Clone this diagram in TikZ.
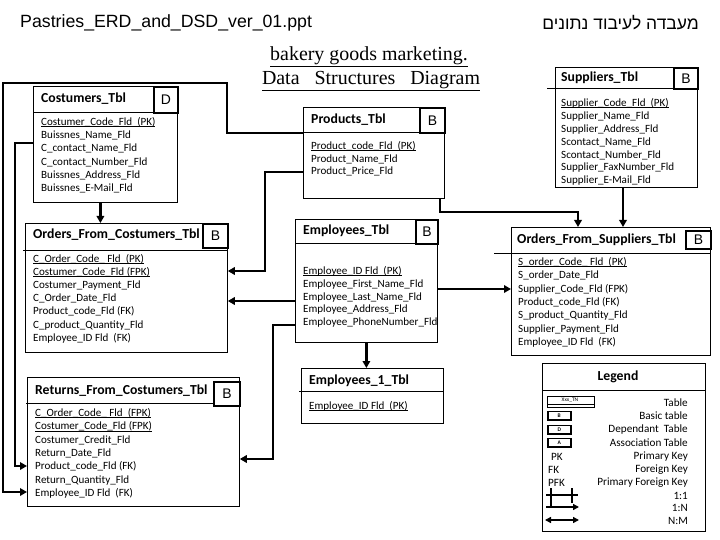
\documentclass[tikz,border=0pt]{standalone}
\usepackage{fontspec}
\setmainfont{Carlito}
\newfontfamily\arialf{Liberation Sans}
\newfontfamily\timesf{Liberation Serif}
\newfontfamily\hebf[Script=Hebrew]{Liberation Sans}
\TeXXeTstate=1
\usetikzlibrary{arrows.meta}
\newcommand\ulfld[1]{\setbox0\hbox{#1}\rlap{\rule[-1.8pt]{\wd0}{1pt}}\box0}
\tikzset{
  tbl/.style={draw, line width=0.8bp, inner sep=0, anchor=north west},
  sepline/.style={line width=0.8bp},
  fld/.style={anchor=west, inner sep=0, font=\fontsize{11.1}{12}\selectfont, text height=7.5bp, text depth=2.5bp},
  hdr/.style={anchor=west, inner sep=0, font=\bfseries\fontsize{13.8}{15}\selectfont},
  lbox/.style={draw, line width=1.8bp, inner sep=0, anchor=north west, font=\arialf\fontsize{14}{14}\selectfont},
  conn/.style={line width=2.6bp},
  arr/.style={conn, -{Triangle[length=7bp,width=7.5bp]}},
  legtxt/.style={anchor=east, inner sep=0, font=\fontsize{11.2}{12}\selectfont},
  legbox/.style={draw, line width=1.5bp, inner sep=0, anchor=north west, minimum width=23bp, minimum height=8.5bp, font=\bfseries\fontsize{5.5}{5.5}\selectfont},
}
\begin{document}
\begin{tikzpicture}[x=1bp,y=-1bp]
\useasboundingbox (0,0) rectangle (720,540);
\fill[white] (0,0) rectangle (720,540);

% titles
\node[anchor=west, inner sep=0, font=\arialf\fontsize{17.8}{20}\selectfont] (ttl) at (20,23) {Pastries\_ERD\_and\_DSD\_ver\_01.ppt};
\node[anchor=east, inner sep=0, font=\hebf\fontsize{17.5}{20}\selectfont] (heb) at (699,23) {\beginR מעבדה לעיבוד נתונים\endR};
\node[inner sep=0, font=\timesf\fontsize{20}{22}\selectfont] (sub1) at (369,57) {\underline{bakery goods marketing.}};
\node[inner sep=0, font=\timesf\fontsize{20}{22}\selectfont] (sub2) at (371,81) {\underline{Data\ \ \ Structures\ \ \ Diagram}};

% Costumers_Tbl
\node[tbl, minimum width=144bp, minimum height=116bp] (cust) at (33,86) {};
\draw[sepline] (33,112) -- (178,112);
\node[lbox, minimum width=24bp, minimum height=26bp] (custL) at (153,86) {D};
\node[hdr] (custH) at (41,99) {Costumers\_Tbl};
\foreach \t [count=\i from 0] in {{\ulfld{Costumer\_Code\_Fld\ \ (PK)}}, Buissnes\_Name\_Fld, C\_contact\_Name\_Fld, C\_contact\_Number\_Fld, Buissnes\_Address\_Fld, Buissnes\_E-Mail\_Fld}
  \node[fld] (cust-f\i) at (41,{123+13.2*\i}) {\t};

% Products_Tbl
\node[tbl, minimum width=141bp, minimum height=91bp] (prod) at (303,107) {};
\draw[sepline] (303,132) -- (444,132);
\node[lbox, minimum width=25bp, minimum height=25bp] (prodL) at (419,107) {B};
\node[hdr] (prodH) at (311,120) {Products\_Tbl};
\foreach \t [count=\i from 0] in {{\ulfld{Product\_code\_Fld\ \ (PK)}}, Product\_Name\_Fld, Product\_Price\_Fld}
  \node[fld] (prod-f\i) at (311,{147+12.6*\i}) {\t};

% Suppliers_Tbl
\node[tbl, minimum width=142bp, minimum height=120bp] (sup) at (555,67) {};
\draw[sepline] (547,88) -- (697,88);
\node[lbox, minimum width=24bp, minimum height=21bp] (supL) at (673,67) {B};
\node[hdr] (supH) at (561,78) {Suppliers\_Tbl};
\foreach \t [count=\i from 0] in {{\ulfld{Supplier\_Code\_Fld\ \ (PK)}}, Supplier\_Name\_Fld, Supplier\_Address\_Fld, Scontact\_Name\_Fld, Scontact\_Number\_Fld, Supplier\_FaxNumber\_Fld, Supplier\_E-Mail\_Fld}
  \node[fld] (sup-f\i) at (561,{104+12.9*\i}) {\t};

% Orders_From_Costumers_Tbl
\node[tbl, minimum width=202bp, minimum height=129bp] (ofc) at (25,223) {};
\draw[sepline] (23,250) -- (227,250);
\node[lbox, minimum width=25bp, minimum height=24bp] (ofcL) at (202,223) {B};
\node[hdr] (ofcH) at (33,235) {Orders\_From\_Costumers\_Tbl};
\foreach \t [count=\i from 0] in {{\ulfld{C\_Order\_Code\_\ Fld\ \ (PK)}}, {\ulfld{Costumer\_Code\_Fld\ (FPK)}}, Costumer\_Payment\_Fld, C\_Order\_Date\_Fld, Product\_code\_Fld\ (FK), C\_product\_Quantity\_Fld, Employee\_ID Fld\ \ (FK)}
  \node[fld] (ofc-f\i) at (33,{260+13.1*\i}) {\t};

% Employees_Tbl
\node[tbl, minimum width=142bp, minimum height=123bp] (emp) at (295,219) {};
\draw[sepline] (295,243) -- (437,243);
\node[lbox, minimum width=22bp, minimum height=24bp] (empL) at (415,219) {B};
\node[hdr] (empH) at (303,231) {Employees\_Tbl};
\foreach \t [count=\i from 0] in {{\ulfld{Employee\_ID Fld\ \ (PK)}}, Employee\_First\_Name\_Fld, Employee\_Last\_Name\_Fld, Employee\_Address\_Fld, Employee\_PhoneNumber\_Fld}
  \node[fld] (emp-f\i) at (303,{272+12.8*\i}) {\t};

% Orders_From_Suppliers_Tbl
\node[tbl, minimum width=199bp, minimum height=128bp] (ofs) at (511,227) {};
\draw[sepline] (494,253) -- (710,253);
\node[lbox, minimum width=25bp, minimum height=18bp] (ofsL) at (685,230) {B};
\node[hdr] (ofsH) at (517,240) {Orders\_From\_Suppliers\_Tbl};
\foreach \t [count=\i from 0] in {{\ulfld{S\_order\_Code\_\ Fld\ \ (PK)}}, S\_order\_Date\_Fld, Supplier\_Code\_Fld\ (FPK), Product\_code\_Fld\ (FK), S\_product\_Quantity\_Fld, Supplier\_Payment\_Fld, Employee\_ID Fld\ \ (FK)}
  \node[fld] (ofs-f\i) at (518,{263+13.3*\i}) {\t};

% Returns_From_Costumers_Tbl
\node[tbl, minimum width=212bp, minimum height=129bp] (ret) at (27,377) {};
\draw[sepline] (26,403) -- (213,403);
\node[lbox, minimum width=26bp, minimum height=24bp] (retL) at (213,381) {B};
\node[hdr] (retH) at (35,391) {Returns\_From\_Costumers\_Tbl};
\foreach \t [count=\i from 0] in {{\ulfld{C\_Order\_Code\_\ Fld\ \ (FPK)}}, {\ulfld{Costumer\_Code\_Fld\ (FPK)}}, Costumer\_Credit\_Fld, Return\_Date\_Fld, Product\_code\_Fld\ (FK), Return\_Quantity\_Fld, Employee\_ID Fld\ \ (FK)}
  \node[fld] (ret-f\i) at (35,{414+13.35*\i}) {\t};

% Employees_1_Tbl
\node[tbl, minimum width=142bp, minimum height=55bp] (emp1) at (301,368) {};
\draw[sepline] (299,391) -- (443,391);
\node[hdr] (emp1H) at (309,381) {Employees\_1\_Tbl};
\node[fld] (emp1-f0) at (309,407) {\ulfld{Employee\_ID Fld\ \ (PK)}};

% Legend
\node[tbl, minimum width=163bp, minimum height=168bp] (leg) at (542,363) {};
\draw[sepline] (542,390) -- (705,390);
\node[inner sep=0, font=\bfseries\fontsize{13.8}{15}\selectfont] (legH) at (618,377) {Legend};
\node[draw, line width=0.8bp, inner sep=0, anchor=north west, minimum width=47bp, minimum height=11bp] (legT) at (547,396) {};
\draw[line width=0.8bp] (547,404) -- (594,404);
\node[inner sep=0, font=\fontsize{5.5}{5.5}\selectfont] (legTt) at (570,400.5) {Xxx\_TN};
\node[legbox] (legB) at (547,410.5) {B};
\node[legbox] (legD) at (547,424.5) {D};
\node[legbox] (legA) at (547,437.5) {A};
\node[anchor=west, inner sep=0, font=\fontsize{11.2}{12}\selectfont] (legPK) at (551,457) {PK};
\node[anchor=west, inner sep=0, font=\fontsize{11.2}{12}\selectfont] (legFK) at (548,470) {FK};
\node[anchor=west, inner sep=0, font=\fontsize{11.2}{12}\selectfont] (legPFK) at (548,483) {PFK};
\node[legtxt] (lt1) at (688,403) {Table};
\node[legtxt] (lt2) at (688,416) {Basic table};
\node[legtxt] (lt3) at (688,430) {Dependant\ \ Table};
\node[legtxt] (lt4) at (688,443) {Association Table};
\node[legtxt] (lt5) at (688,457) {Primary Key};
\node[legtxt] (lt6) at (688,470) {Foreign Key};
\node[legtxt] (lt7) at (688,483) {Primary Foreign Key};
\node[legtxt] (lt8) at (688,496) {1:1};
\node[legtxt] (lt9) at (688,508) {1:N};
\node[legtxt] (lt10) at (688,521) {N:M};
\coordinate (s1a) at (546,495); \coordinate (s1b) at (578,495);
\draw[line width=1.8bp] (s1a) -- (s1b);
\draw[line width=1.8bp] (551,488) -- (551,507);
\draw[line width=1.8bp] (572,488) -- (572,503);
\coordinate (s2a) at (546,507); \coordinate (s2b) at (579,507);
\draw[line width=1.8bp, -{Triangle[length=6bp,width=6bp]}] (s2a) -- (s2b);
\coordinate (s3a) at (545,520); \coordinate (s3b) at (579,520);
\draw[line width=1.8bp, {Triangle[length=6bp,width=6bp]}-{Triangle[length=6bp,width=6bp]}] (s3a) -- (s3b);

% connectors
\draw[arr] (prod.west |- 0,133) -| (227,83) -| (3,492) -- (ret.west |- 0,492);
\draw[arr] (cust.west |- 0,143) -| (15,466) -- (ret.west |- 0,466);
\draw[arr] ([xshift=-5bp]cust.south) -- ([xshift=-5bp]cust.south |- ofc.north);
\draw[arr] (prod.west |- 0,172) -| (265,271) -- (ofc.east |- 0,271);
\draw[arr] (emp.west |- 0,301) -- (ofc.east |- 0,301);
\draw[arr] (emp.west |- 0,325) -| (273,459) -- (ret.east |- 0,459);
\draw[arr] (emp.south) -- (emp.south |- emp1.north);
\draw[arr] (prod.south -| 440,0) -- (440,212) -| (ofs.north -| 578,0);
\draw[arr] (sup.south -| 623,0) -- (ofs.north -| 623,0);
\draw[arr] (emp.east |- 0,289) -- (ofs.west |- 0,289);
\end{tikzpicture}
\end{document}
